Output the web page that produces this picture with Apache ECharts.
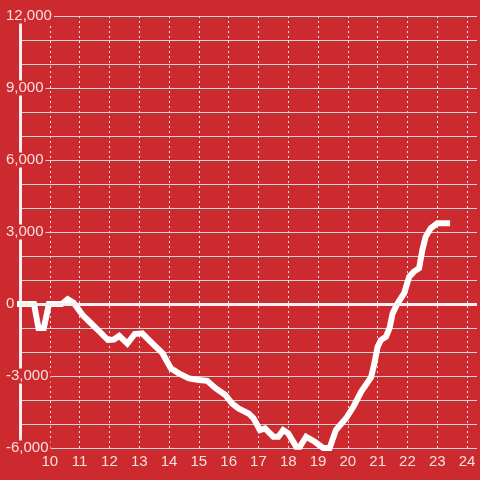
<!DOCTYPE html>
<html>
<head>
<meta charset="utf-8">
<script src="https://cdn.jsdelivr.net/npm/echarts@6/dist/echarts.min.js"></script>
<style>
html,body{margin:0;padding:0;background:#cc2a2e;}
#chart{width:480px;height:480px;}
</style>
</head>
<body>
<div id="chart"></div>
<script>
// hour of day
const hours = [9.0, 9.47, 9.62, 9.8, 9.97, 10.4, 10.6, 10.8, 11.1, 11.33, 11.67, 11.95, 12.15, 12.33, 12.6, 12.85, 13.1,
  13.44, 13.78, 14.06, 14.33, 14.67, 15.0, 15.28, 15.56, 15.89, 16.11, 16.33, 16.67, 16.83, 17.05, 17.22,
  17.5, 17.67, 17.83, 18.0, 18.27, 18.39, 18.6, 18.89, 19.17, 19.39, 19.6, 19.94, 20.2, 20.45, 20.78,
  20.89, 21.0, 21.11, 21.28, 21.4, 21.5, 21.67, 21.89, 22.06, 22.22, 22.39, 22.5, 22.61, 22.78, 23.0, 23.33];
const values = [0, 0, -1000, -1000, 0, 0, 200, 50, -460, -740, -1150, -1500, -1480, -1330, -1650, -1250, -1220,
  -1640, -2050, -2680, -2890, -3100, -3170, -3200, -3510, -3790, -4140, -4350, -4560, -4750, -5250, -5180,
  -5530, -5530, -5250, -5390, -5950, -5950, -5530, -5740, -6000, -6000, -5250, -4760, -4250, -3650, -3050,
  -2470, -1780, -1500, -1360, -1000, -400, 30, 450, 1140, 1350, 1490, 2250, 2800, 3150, 3360, 3360];
const xTicks = [10, 11, 12, 13, 14, 15, 16, 17, 18, 19, 20, 21, 22, 23, 24];
const yLabelValues = [-6000, -3000, 0, 3000, 6000, 9000, 12000];

const BG = '#cc2a2e';
const TXT = '#f7dfdf';
const chart = echarts.init(document.getElementById('chart'));
chart.setOption({
  backgroundColor: BG,
  animation: false,
  grid: {left: 20, right: 0, top: 16, bottom: 32, containLabel: false},
  xAxis: {
    type: 'value', min: 9, max: 24.3333, interval: 1,
    axisLine: {show: false}, axisTick: {show: false},
    axisLabel: {
      color: TXT, fontSize: 15, fontFamily: 'Liberation Sans, Arial', margin: 6,
      showMinLabel: false,
      formatter: v => xTicks.indexOf(v) >= 0 ? String(v) : ''
    },
    splitLine: {show: true, showMaxLine: false, lineStyle: {color: '#e6e6e6', width: 1, type: [2, 3]}}
  },
  yAxis: {
    type: 'value', min: -6000, max: 12000, interval: 1000,
    axisLine: {show: true, lineStyle: {color: '#eeeeee', width: 3}},
    axisTick: {show: false},
    axisLabel: {
      color: TXT, fontSize: 15, fontFamily: 'Liberation Sans, Arial', align: 'left', margin: 16,
      backgroundColor: BG, padding: [0, 2, 0, 2],
      formatter: v => yLabelValues.indexOf(v) >= 0 ? v.toLocaleString('en-US') : ''
    },
    splitLine: {show: true, lineStyle: {color: '#d6d6d6', width: 1}}
  },
  series: [{
    type: 'line',
    data: hours.map((h, i) => [h, values[i]]),
    symbol: 'none',
    clip: false,
    lineStyle: {color: '#ffffff', width: 6, cap: 'square', join: 'miter'},
    markLine: {
      silent: true, symbol: 'none', label: {show: false},
      lineStyle: {color: '#f2f2f2', width: 3, type: 'solid'},
      data: [{yAxis: 0}]
    },
    z: 3
  }]
});
</script>
</body>
</html>
